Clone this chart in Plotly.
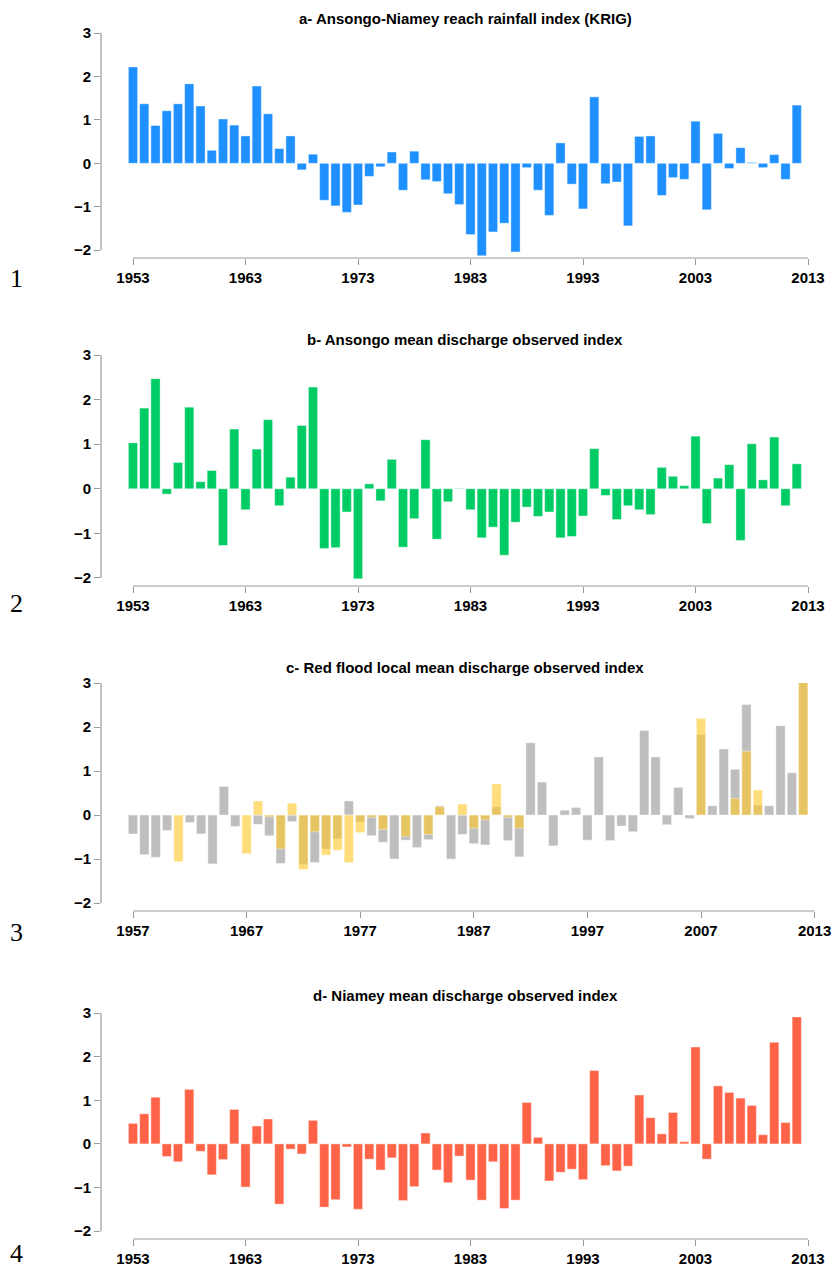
import plotly.graph_objects as go

years_abd = list(range(1953, 2013))
years_c = list(range(1957, 2017))

rain_a = [2.22,1.37,0.87,1.21,1.37,1.83,1.32,0.30,1.02,0.88,0.63,1.78,1.14,0.34,0.63,-0.15,0.21,-0.85,-0.98,-1.13,
          -0.96,-0.30,-0.08,0.26,-0.62,0.28,-0.38,-0.42,-0.70,-0.95,-1.64,-2.13,-1.58,-1.38,-2.04,-0.10,-0.62,-1.20,0.47,-0.48,
          -1.05,1.53,-0.47,-0.43,-1.44,0.62,0.63,-0.74,-0.33,-0.37,0.97,-1.07,0.69,-0.12,0.36,0.02,-0.10,0.20,-0.37,1.34]
ansongo_b = [1.03,1.81,2.47,-0.12,0.59,1.83,0.16,0.41,-1.27,1.34,-0.47,0.89,1.55,-0.38,0.26,1.42,2.28,-1.34,-1.32,-0.52,
             -2.02,0.11,-0.27,0.66,-1.31,-0.67,1.10,-1.13,-0.29,0.01,-0.47,-1.10,-0.86,-1.49,-0.75,-0.41,-0.62,-0.52,-1.10,-1.07,
             -0.61,0.90,-0.15,-0.69,-0.38,-0.47,-0.58,0.48,0.28,0.07,1.18,-0.78,0.24,0.54,-1.16,1.01,0.20,1.16,-0.38,0.56]
red_gray = [-0.43,-0.90,-0.96,-0.35,None,-0.17,-0.43,-1.11,0.65,-0.26,None,-0.21,-0.47,-1.10,-0.15,-1.12,-1.08,-0.77,-0.54,0.32,
            -0.16,-0.47,-0.62,-1.00,-0.57,-0.74,-0.56,0.21,-1.00,-0.44,-0.65,-0.68,0.19,-0.58,-0.95,1.64,0.75,-0.70,0.11,0.17,
            -0.57,1.32,-0.58,-0.25,-0.38,1.92,1.32,-0.22,0.63,-0.08,1.83,0.21,1.50,1.04,2.51,0.23,0.21,2.03,0.96,3.38]
red_gold = [None,None,None,None,-1.06,None,None,None,None,None,-0.88,0.32,-0.04,-0.77,0.27,-1.24,-0.38,-0.91,-0.80,-1.08,
            -0.40,-0.05,-0.33,None,-0.49,None,-0.44,0.19,None,0.25,-0.30,-0.11,0.71,-0.05,-0.30,None,None,None,None,None,
            None,None,None,None,None,None,None,None,None,None,2.20,None,None,0.38,1.45,0.57,None,None,None,3.33]
niamey_d = [0.47,0.69,1.07,-0.29,-0.41,1.25,-0.17,-0.71,-0.36,0.79,-0.99,0.41,0.57,-1.38,-0.12,-0.23,0.54,-1.45,-1.28,-0.07,
            -1.50,-0.35,-0.60,-0.32,-1.30,-0.98,0.25,-0.60,-0.89,-0.28,-0.83,-1.29,-0.41,-1.48,-1.29,0.95,0.15,-0.85,-0.65,-0.58,
            -0.82,1.68,-0.50,-0.62,-0.51,1.12,0.60,0.23,0.72,0.05,2.22,-0.35,1.33,1.18,1.05,0.88,0.21,2.33,0.49,2.91]

titles = ["a- Ansongo-Niamey reach rainfall index (KRIG)", "b- Ansongo mean discharge observed index",
          "c- Red flood local mean discharge observed index", "d- Niamey mean discharge observed index"]
ticks_abd = [1953, 1963, 1973, 1983, 1993, 2003, 2013]
ticks_c = [1957, 1967, 1977, 1987, 1997, 2007, 2017]
ticklabels_c = ["1957", "1967", "1977", "1987", "1997", "2007", "2013"]
yticks = [-2, -1, 0, 1, 2, 3]

H, W = 1269, 838
def py(p): return 1 - p / H
def px(p): return p / W

panels = [(33, 258, 1), (355, 586, 2), (683, 911, 3), (1013, 1239, 4)]
title_y = [18, 340, 667, 995]
num_y = [278, 603, 933, 1253]

fig = go.Figure()
lw = dict(color="rgba(255,255,255,0.7)", width=0.6)
fig.add_trace(go.Bar(x=years_abd, y=rain_a, marker=dict(color="#1E90FF", line=lw), width=0.82, xaxis="x", yaxis="y"))
fig.add_trace(go.Bar(x=years_abd, y=ansongo_b, marker=dict(color="#00CC66", line=lw), width=0.82, xaxis="x2", yaxis="y2"))
fig.add_trace(go.Bar(x=years_c, y=red_gray, marker=dict(color="#BEBEBE", line=lw), width=0.82, xaxis="x3", yaxis="y3"))
fig.add_trace(go.Bar(x=years_c, y=red_gold, marker=dict(color="rgba(255,200,40,0.62)", line=lw), width=0.82, xaxis="x3", yaxis="y3"))
fig.add_trace(go.Bar(x=years_abd, y=niamey_d, marker=dict(color="#FF6347", line=lw), width=0.82, xaxis="x4", yaxis="y4"))

font_t = dict(family="Liberation Sans", size=15, color="black", weight="bold")
layout = dict(width=W, height=H, margin=dict(l=0, r=0, t=0, b=0, autoexpand=False), plot_bgcolor="white",
              paper_bgcolor="white", showlegend=False, barmode="overlay")
L, R = 101, 815
xd = [px(L), px(R)]
shapes, annots = [], []
for i, (top, bot, n) in enumerate(panels):
    s = "" if n == 1 else str(n)
    if n == 3:
        k = 11.36; x0y = 1957; tv, tt = ticks_c, ticklabels_c
    else:
        k = 11.25; x0y = 1953; tv, tt = ticks_abd, [str(t) for t in ticks_abd]
    xr = [x0y - (133 - L) / k, x0y + (R - 133) / k]
    layout["xaxis" + s] = dict(domain=xd, range=xr, anchor="y" + s, tickvals=tv, ticktext=tt, ticks="outside",
                               ticklen=6, tickcolor="#999", showgrid=False, zeroline=False, showline=False,
                               tickfont=font_t, automargin=False)
    layout["yaxis" + s] = dict(domain=[py(bot), py(top)], range=[-2.18, 3], anchor="x" + s, tickvals=yticks,
                               ticks="outside", ticklen=6, tickcolor="#999", showgrid=False, zeroline=False,
                               showline=False, tickfont=font_t, automargin=False)
    shapes.append(dict(type="line", xref="x%s domain" % s, yref="y" + s, x0=0, x1=0, y0=-2, y1=3,
                       line=dict(color="#999", width=1.2)))
    shapes.append(dict(type="line", xref="x" + s, yref="y%s domain" % s, x0=tv[0], x1=tv[-1], y0=0, y1=0,
                       line=dict(color="#999", width=1.2)))
    annots.append(dict(text=titles[i], x=px(465), y=py(title_y[i]), xref="paper", yref="paper", showarrow=False,
                       font=font_t, xanchor="center", yanchor="middle"))
    annots.append(dict(text=str(n), x=px(16), y=py(num_y[i]), xref="paper", yref="paper", showarrow=False,
                       font=dict(family="Liberation Serif", size=26, color="black"), xanchor="center", yanchor="middle"))
layout["shapes"] = shapes
layout["annotations"] = annots
fig.update_layout(**layout)
fig.write_html("out.html", config={"displayModeBar": False},
               post_script="document.body.style.margin='0';document.body.style.overflow='hidden';")
